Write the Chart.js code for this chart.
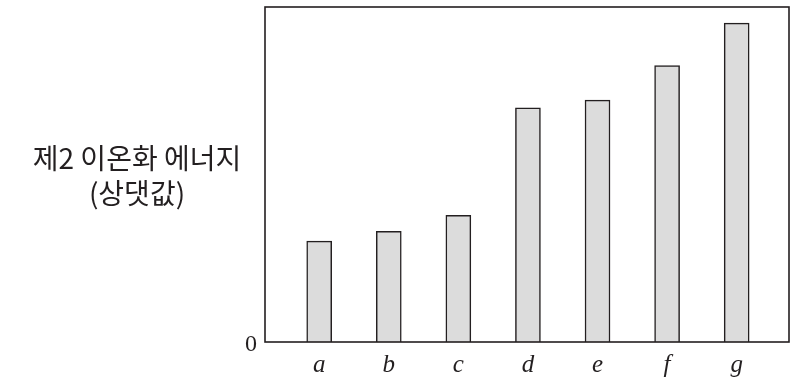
<!DOCTYPE html>
<html>
<head>
<meta charset="utf-8">
<script src="https://cdn.jsdelivr.net/npm/chart.js@4"></script>
<style>
  html, body { margin: 0; padding: 0; background: #fff; }
  #wrap { width: 798px; height: 385px; }
</style>
</head>
<body>
<div id="wrap"><canvas id="chart"></canvas></div>
<script>
// 데이터
const categories = ['a', 'b', 'c', 'd', 'e', 'f', 'g'];
const energyValues = [30.1, 33.0, 37.8, 69.9, 72.2, 82.5, 95.2];
const yTickValues = [0];
const yTitleLines = ['제2 이온화 에너지', '(상댓값)'];

const ink = '#231f20';

// 박스 + 세로축 제목
const boxPlugin = {
  id: 'boxPlugin',
  afterDraw(chart) {
    const { ctx, chartArea: a } = chart;
    ctx.save();
    ctx.strokeStyle = ink;
    ctx.lineWidth = 1.6;
    ctx.strokeRect(a.left, a.top, a.right - a.left, a.bottom - a.top);
    ctx.fillStyle = ink;
    ctx.font = '28px "Noto Sans CJK KR", "Noto Sans", sans-serif';
    ctx.textAlign = 'center';
    ctx.textBaseline = 'middle';
    ctx.fillText(yTitleLines[0], 137, 158);
    ctx.fillText(yTitleLines[1], 137, 193);
    ctx.restore();
  }
};

// 축 라벨 때문에 생기는 여백 제거
function noPad(s) {
  s.paddingTop = 0; s.paddingBottom = 0; s.paddingLeft = 0; s.paddingRight = 0;
}

new Chart(document.getElementById('chart'), {
  type: 'bar',
  data: {
    datasets: [{
      data: energyValues.map((v, i) => ({ x: i, y: v })),
      backgroundColor: '#dcdcdc',
      borderColor: ink,
      borderWidth: 1.5,
      barThickness: 25
    }]
  },
  options: {
    responsive: true,
    maintainAspectRatio: false,
    animation: false,
    layout: { padding: { top: 7, right: 9, left: 0, bottom: 0 } },
    plugins: { legend: { display: false }, tooltip: { enabled: false } },
    scales: {
      x: {
        type: 'linear',
        offset: false,
        min: -0.779,
        max: 6.752,
        grid: { display: false, drawTicks: false },
        border: { display: false },
        afterBuildTicks: s => { s.ticks = categories.map((_, i) => ({ value: i })); },
        afterFit: s => { s.height = 43; noPad(s); },
        ticks: {
          padding: 8,
          color: ink,
          font: { family: '"Liberation Serif", "DejaVu Serif", serif', size: 25, style: 'italic' },
          callback: v => categories[v]
        }
      },
      y: {
        min: 0,
        max: 100,
        grid: { display: false, drawTicks: false },
        border: { display: false },
        afterBuildTicks: s => { s.ticks = yTickValues.map(v => ({ value: v })); },
        afterFit: s => { s.width = 265; noPad(s); },
        ticks: {
          padding: 8,
          labelOffset: 3,
          color: ink,
          font: { family: '"Liberation Serif", "DejaVu Serif", serif', size: 24 }
        }
      }
    }
  },
  plugins: [boxPlugin]
});
</script>
</body>
</html>
